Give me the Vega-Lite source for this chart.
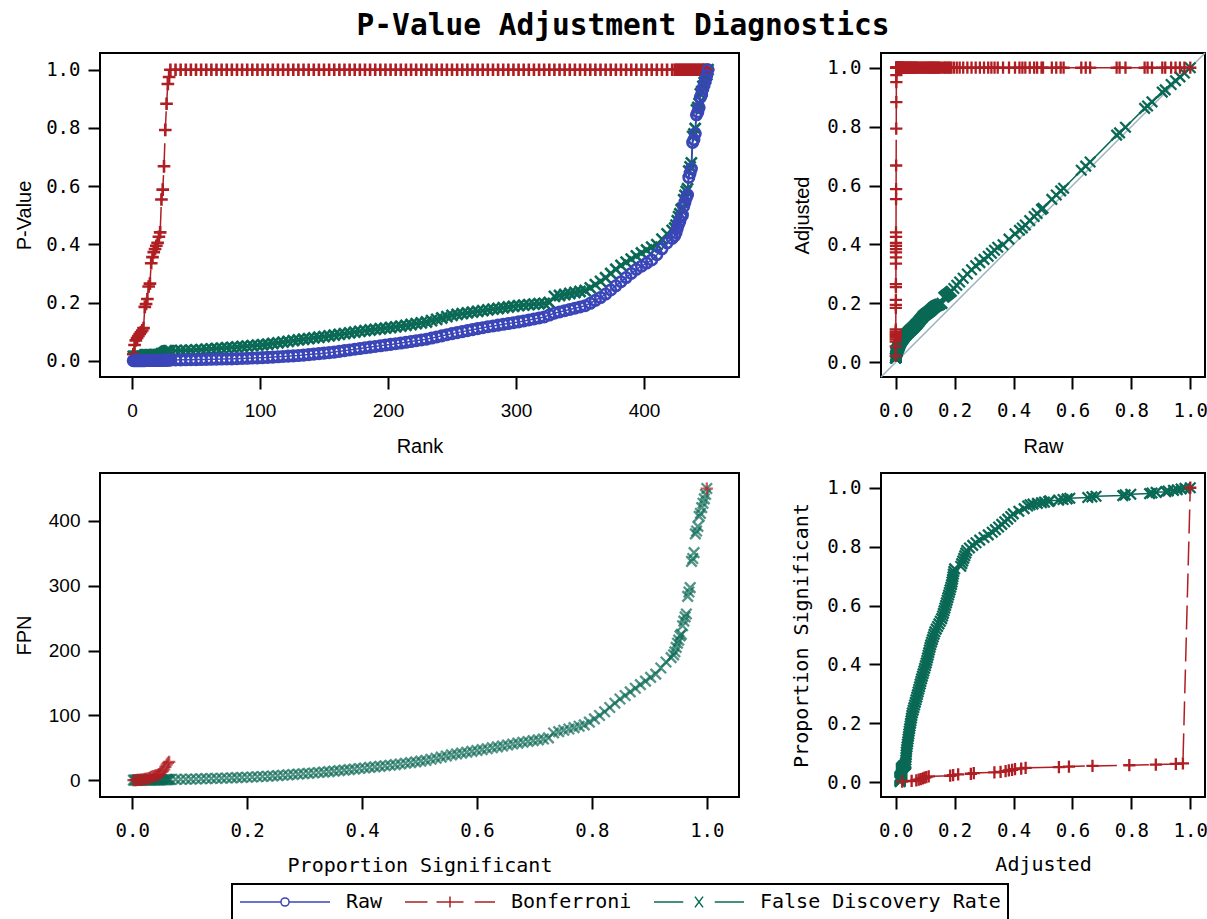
{
"$schema": "https://vega.github.io/schema/vega-lite/v6.json",
"background": "white",
"padding": {"left": 13, "top": 10, "right": 0, "bottom": 0},
"title": {"text": "P-Value Adjustment Diagnostics", "font": "DejaVu Sans Mono", "fontSize": 29.5, "fontWeight": "bold", "color": "black", "offset": 8, "dx": 12, "anchor": "middle"},
"config": {
 "view": {"stroke": "black", "strokeWidth": 2},
 "axis": {"domain": false, "grid": false, "ticks": true, "tickSize": 12, "tickWidth": 2, "tickColor": "black", "labelColor": "black", "titleColor": "black", "titleFontWeight": "normal", "labelFontSize": 19, "titleFontSize": 20, "labelFont": "DejaVu Sans Mono", "titleFont": "Liberation Sans", "titleBaseline": "alphabetic", "labelFlush": false, "labelOverlap": false},
 "axisX": {"labelPadding": 12},
 "axisY": {"labelPadding": 8},
 "legend": {"orient": "none", "legendX": 132, "legendY": 831, "direction": "horizontal", "symbolSize": 8100, "clipHeight": 22, "labelFont": "DejaVu Sans Mono", "labelFontSize": 20, "labelColor": "black", "labelOffset": 15, "columnPadding": 21, "padding": 7, "strokeColor": "black", "labelLimit": 400, "symbolStrokeWidth": 1.5}
},
"datasets": {
 "diag": [{"v": -0.05}, {"v": 1.05}],
 "d": [
{"k":1,"p":0.000049,"b":0.022,"f":0.015,"s":0.0022,"nf":0.015,"sb":0.0022,"nb":0.022},
{"k":2,"p":0.00012,"b":0.054,"f":0.015,"s":0.0044,"nf":0.03,"sb":0.0044,"nb":0.108},
{"k":3,"p":0.000156,"b":0.07,"f":0.015,"s":0.0067,"nf":0.045,"sb":0.0067,"nb":0.21},
{"k":4,"p":0.000173,"b":0.078,"f":0.015,"s":0.0089,"nf":0.06,"sb":0.0089,"nb":0.312},
{"k":5,"p":0.000189,"b":0.085,"f":0.015,"s":0.0111,"nf":0.075,"sb":0.0111,"nb":0.425},
{"k":6,"p":0.000204,"b":0.092,"f":0.015,"s":0.0133,"nf":0.09,"sb":0.0133,"nb":0.552},
{"k":7,"p":0.000218,"b":0.098,"f":0.015,"s":0.0156,"nf":0.105,"sb":0.0156,"nb":0.686},
{"k":8,"p":0.000231,"b":0.104,"f":0.015,"s":0.0178,"nf":0.12,"sb":0.0178,"nb":0.832},
{"k":9,"p":0.000249,"b":0.112,"f":0.015,"s":0.02,"nf":0.135,"sb":0.02,"nb":1.008},
{"k":10,"p":0.000411,"b":0.185,"f":0.02,"s":0.0222,"nf":0.2,"sb":0.0222,"nb":1.85},
{"k":11,"p":0.000433,"b":0.195,"f":0.02,"s":0.0244,"nf":0.22,"sb":0.0244,"nb":2.145},
{"k":12,"p":0.000471,"b":0.212,"f":0.02,"s":0.0267,"nf":0.24,"sb":0.0267,"nb":2.544},
{"k":13,"p":0.000567,"b":0.255,"f":0.02,"s":0.0289,"nf":0.26,"sb":0.0289,"nb":3.315},
{"k":14,"p":0.000589,"b":0.265,"f":0.02,"s":0.0311,"nf":0.28,"sb":0.0311,"nb":3.71},
{"k":15,"p":0.000744,"b":0.335,"f":0.02,"s":0.0333,"nf":0.3,"sb":0.0333,"nb":5.025},
{"k":16,"p":0.000791,"b":0.356,"f":0.02,"s":0.0356,"nf":0.32,"sb":0.0356,"nb":5.696},
{"k":17,"p":0.000829,"b":0.373,"f":0.02,"s":0.0378,"nf":0.34,"sb":0.0378,"nb":6.341},
{"k":18,"p":0.000853,"b":0.384,"f":0.02,"s":0.04,"nf":0.36,"sb":0.04,"nb":6.912},
{"k":19,"p":0.000878,"b":0.395,"f":0.02,"s":0.0422,"nf":0.38,"sb":0.0422,"nb":7.505},
{"k":20,"p":0.0009,"b":0.405,"f":0.02,"s":0.0444,"nf":0.4,"sb":0.0444,"nb":8.1},
{"k":21,"p":0.000947,"b":0.426,"f":0.02,"s":0.0467,"nf":0.42,"sb":0.0467,"nb":8.946},
{"k":22,"p":0.00098,"b":0.441,"f":0.02,"s":0.0489,"nf":0.44,"sb":0.0489,"nb":9.702},
{"k":23,"p":0.00123,"b":0.554,"f":0.024,"s":0.0511,"nf":0.552,"sb":0.0511,"nb":12.742},
{"k":24,"p":0.00131,"b":0.588,"f":0.0245,"s":0.0533,"nf":0.588,"sb":0.0533,"nb":14.112},
{"k":25,"p":0.00148,"b":0.668,"f":0.0267,"s":0.0556,"nf":0.668,"sb":0.0556,"nb":16.7},
{"k":26,"p":0.00176,"b":0.793,"f":0.0305,"s":0.0578,"nf":0.793,"sb":0.0578,"nb":20.618},
{"k":27,"p":0.00196,"b":0.883,"f":0.0327,"s":0.06,"nf":0.883,"sb":0.06,"nb":23.841},
{"k":28,"p":0.00211,"b":0.951,"f":0.0336,"s":0.0622,"nf":0.941,"sb":0.0622,"nb":26.628},
{"k":29,"p":0.00217,"b":0.975,"f":0.0336,"s":0.0644,"nf":0.974,"sb":0.0644,"nb":28.275},
{"k":30,"p":0.0023,"b":1,"f":0.034,"s":0.0667,"nf":1.02},
{"k":34,"p":0.0026,"b":1,"f":0.0345,"s":0.0756,"nf":1.173},
{"k":38,"p":0.0029,"b":1,"f":0.035,"s":0.0844,"nf":1.33},
{"k":42,"p":0.0032,"b":1,"f":0.0355,"s":0.0933,"nf":1.491},
{"k":46,"p":0.0035,"b":1,"f":0.036,"s":0.1022,"nf":1.656},
{"k":50,"p":0.0038,"b":1,"f":0.037,"s":0.1111,"nf":1.85},
{"k":54,"p":0.0041,"b":1,"f":0.0383,"s":0.12,"nf":2.068},
{"k":58,"p":0.0045,"b":1,"f":0.0395,"s":0.1289,"nf":2.291},
{"k":62,"p":0.0049,"b":1,"f":0.0408,"s":0.1378,"nf":2.53},
{"k":66,"p":0.0053,"b":1,"f":0.042,"s":0.1467,"nf":2.772},
{"k":70,"p":0.0057,"b":1,"f":0.0432,"s":0.1556,"nf":3.024},
{"k":74,"p":0.006,"b":1,"f":0.0445,"s":0.1644,"nf":3.293},
{"k":78,"p":0.0064,"b":1,"f":0.0457,"s":0.1733,"nf":3.565},
{"k":82,"p":0.007,"b":1,"f":0.0472,"s":0.1822,"nf":3.87},
{"k":86,"p":0.0077,"b":1,"f":0.0487,"s":0.1911,"nf":4.188},
{"k":90,"p":0.0084,"b":1,"f":0.0502,"s":0.2,"nf":4.518},
{"k":94,"p":0.0091,"b":1,"f":0.0518,"s":0.2089,"nf":4.869},
{"k":98,"p":0.0098,"b":1,"f":0.0533,"s":0.2178,"nf":5.223},
{"k":102,"p":0.0105,"b":1,"f":0.0548,"s":0.2267,"nf":5.59},
{"k":106,"p":0.0113,"b":1,"f":0.0566,"s":0.2356,"nf":6},
{"k":110,"p":0.0124,"b":1,"f":0.0591,"s":0.2444,"nf":6.501},
{"k":114,"p":0.0134,"b":1,"f":0.0615,"s":0.2533,"nf":7.011},
{"k":118,"p":0.0145,"b":1,"f":0.064,"s":0.2622,"nf":7.552},
{"k":122,"p":0.0156,"b":1,"f":0.0665,"s":0.2711,"nf":8.113},
{"k":126,"p":0.0167,"b":1,"f":0.0689,"s":0.28,"nf":8.681},
{"k":130,"p":0.0177,"b":1,"f":0.0714,"s":0.2889,"nf":9.282},
{"k":134,"p":0.0193,"b":1,"f":0.0737,"s":0.2978,"nf":9.876},
{"k":138,"p":0.021,"b":1,"f":0.076,"s":0.3067,"nf":10.488},
{"k":142,"p":0.0227,"b":1,"f":0.0783,"s":0.3156,"nf":11.119},
{"k":146,"p":0.0243,"b":1,"f":0.0807,"s":0.3244,"nf":11.782},
{"k":150,"p":0.026,"b":1,"f":0.083,"s":0.3333,"nf":12.45},
{"k":154,"p":0.0277,"b":1,"f":0.0853,"s":0.3422,"nf":13.136},
{"k":158,"p":0.0296,"b":1,"f":0.0877,"s":0.3511,"nf":13.857},
{"k":162,"p":0.0321,"b":1,"f":0.0903,"s":0.36,"nf":14.629},
{"k":166,"p":0.0345,"b":1,"f":0.0929,"s":0.3689,"nf":15.421},
{"k":170,"p":0.037,"b":1,"f":0.0955,"s":0.3778,"nf":16.235},
{"k":174,"p":0.0395,"b":1,"f":0.0981,"s":0.3867,"nf":17.069},
{"k":178,"p":0.0419,"b":1,"f":0.1007,"s":0.3956,"nf":17.925},
{"k":182,"p":0.0444,"b":1,"f":0.1033,"s":0.4044,"nf":18.801},
{"k":186,"p":0.0467,"b":1,"f":0.1056,"s":0.4133,"nf":19.642},
{"k":190,"p":0.049,"b":1,"f":0.1078,"s":0.4222,"nf":20.482},
{"k":194,"p":0.0513,"b":1,"f":0.1099,"s":0.4311,"nf":21.321},
{"k":198,"p":0.0537,"b":1,"f":0.1121,"s":0.44,"nf":22.196},
{"k":202,"p":0.056,"b":1,"f":0.1142,"s":0.4489,"nf":23.068},
{"k":206,"p":0.0583,"b":1,"f":0.1164,"s":0.4578,"nf":23.978},
{"k":210,"p":0.0607,"b":1,"f":0.1187,"s":0.4667,"nf":24.927},
{"k":214,"p":0.0633,"b":1,"f":0.1216,"s":0.4756,"nf":26.022},
{"k":218,"p":0.066,"b":1,"f":0.1244,"s":0.4844,"nf":27.119},
{"k":222,"p":0.0687,"b":1,"f":0.1273,"s":0.4933,"nf":28.261},
{"k":226,"p":0.0713,"b":1,"f":0.1301,"s":0.5022,"nf":29.403},
{"k":230,"p":0.074,"b":1,"f":0.133,"s":0.5111,"nf":30.59},
{"k":234,"p":0.0778,"b":1,"f":0.1376,"s":0.52,"nf":32.198},
{"k":238,"p":0.0816,"b":1,"f":0.1421,"s":0.5289,"nf":33.82},
{"k":242,"p":0.0854,"b":1,"f":0.1467,"s":0.5378,"nf":35.501},
{"k":246,"p":0.0892,"b":1,"f":0.1513,"s":0.5467,"nf":37.22},
{"k":250,"p":0.093,"b":1,"f":0.1559,"s":0.5556,"nf":38.975},
{"k":254,"p":0.0965,"b":1,"f":0.159,"s":0.5644,"nf":40.386},
{"k":258,"p":0.0999,"b":1,"f":0.1616,"s":0.5733,"nf":41.693},
{"k":262,"p":0.1033,"b":1,"f":0.1642,"s":0.5822,"nf":43.02},
{"k":266,"p":0.1067,"b":1,"f":0.1668,"s":0.5911,"nf":44.369},
{"k":270,"p":0.1101,"b":1,"f":0.1694,"s":0.6,"nf":45.738},
{"k":274,"p":0.1135,"b":1,"f":0.172,"s":0.6089,"nf":47.128},
{"k":278,"p":0.1167,"b":1,"f":0.1746,"s":0.6178,"nf":48.539},
{"k":282,"p":0.1195,"b":1,"f":0.1771,"s":0.6267,"nf":49.942},
{"k":286,"p":0.1222,"b":1,"f":0.1795,"s":0.6356,"nf":51.337},
{"k":290,"p":0.125,"b":1,"f":0.182,"s":0.6444,"nf":52.78},
{"k":294,"p":0.1278,"b":1,"f":0.1845,"s":0.6533,"nf":54.243},
{"k":298,"p":0.1305,"b":1,"f":0.1869,"s":0.6622,"nf":55.696},
{"k":302,"p":0.1333,"b":1,"f":0.1894,"s":0.6711,"nf":57.199},
{"k":306,"p":0.1366,"b":1,"f":0.1911,"s":0.68,"nf":58.477},
{"k":310,"p":0.14,"b":1,"f":0.1927,"s":0.6889,"nf":59.737},
{"k":314,"p":0.1434,"b":1,"f":0.1942,"s":0.6978,"nf":60.979},
{"k":318,"p":0.1469,"b":1,"f":0.1957,"s":0.7067,"nf":62.233},
{"k":322,"p":0.1503,"b":1,"f":0.1972,"s":0.7156,"nf":63.498},
{"k":326,"p":0.157,"b":1,"f":0.2,"s":0.7244,"nf":65.2},
{"k":330,"p":0.1631,"b":1,"f":0.2208,"s":0.7333,"nf":72.864},
{"k":334,"p":0.1674,"b":1,"f":0.2242,"s":0.7422,"nf":74.883},
{"k":338,"p":0.1717,"b":1,"f":0.2276,"s":0.7511,"nf":76.929},
{"k":342,"p":0.176,"b":1,"f":0.231,"s":0.76,"nf":79.002},
{"k":346,"p":0.1803,"b":1,"f":0.2344,"s":0.7689,"nf":81.102},
{"k":350,"p":0.1846,"b":1,"f":0.2378,"s":0.7778,"nf":83.23},
{"k":354,"p":0.1889,"b":1,"f":0.2412,"s":0.7867,"nf":85.385},
{"k":358,"p":0.1974,"b":1,"f":0.2503,"s":0.7956,"nf":89.607},
{"k":362,"p":0.2072,"b":1,"f":0.2614,"s":0.8044,"nf":94.627},
{"k":366,"p":0.2171,"b":1,"f":0.2725,"s":0.8133,"nf":99.735},
{"k":370,"p":0.2291,"b":1,"f":0.2852,"s":0.8222,"nf":105.524},
{"k":374,"p":0.2432,"b":1,"f":0.2997,"s":0.8311,"nf":112.088},
{"k":378,"p":0.2574,"b":1,"f":0.3142,"s":0.84,"nf":118.768},
{"k":382,"p":0.2715,"b":1,"f":0.3277,"s":0.8489,"nf":125.181},
{"k":386,"p":0.2857,"b":1,"f":0.3385,"s":0.8578,"nf":130.661},
{"k":390,"p":0.2998,"b":1,"f":0.3492,"s":0.8667,"nf":136.188},
{"k":394,"p":0.314,"b":1,"f":0.36,"s":0.8756,"nf":141.84},
{"k":398,"p":0.3248,"b":1,"f":0.3702,"s":0.8844,"nf":147.34},
{"k":402,"p":0.3355,"b":1,"f":0.3803,"s":0.8933,"nf":152.881},
{"k":406,"p":0.3463,"b":1,"f":0.3905,"s":0.9022,"nf":158.543},
{"k":410,"p":0.3643,"b":1,"f":0.399,"s":0.9111,"nf":163.59},
{"k":414,"p":0.3846,"b":1,"f":0.418,"s":0.92,"nf":173.052},
{"k":418,"p":0.405,"b":1,"f":0.436,"s":0.9289,"nf":182.248},
{"k":422,"p":0.42,"b":1,"f":0.448,"s":0.9378,"nf":189.056},
{"k":424,"p":0.43,"b":1,"f":0.456,"s":0.9422,"nf":193.344},
{"k":425,"p":0.44,"b":1,"f":0.466,"s":0.9444,"nf":198.05},
{"k":426,"p":0.455,"b":1,"f":0.481,"s":0.9467,"nf":204.906},
{"k":427,"p":0.47,"b":1,"f":0.495,"s":0.9489,"nf":211.365},
{"k":428,"p":0.48,"b":1,"f":0.505,"s":0.9511,"nf":216.14},
{"k":429,"p":0.495,"b":1,"f":0.519,"s":0.9533,"nf":222.651},
{"k":430,"p":0.5,"b":1,"f":0.523,"s":0.9556,"nf":224.89},
{"k":431,"p":0.53,"b":1,"f":0.553,"s":0.9578,"nf":238.343},
{"k":432,"p":0.545,"b":1,"f":0.568,"s":0.96,"nf":245.376},
{"k":433,"p":0.56,"b":1,"f":0.582,"s":0.9622,"nf":252.006},
{"k":434,"p":0.57,"b":1,"f":0.591,"s":0.9644,"nf":256.494},
{"k":435,"p":0.63,"b":1,"f":0.652,"s":0.9667,"nf":283.62},
{"k":436,"p":0.645,"b":1,"f":0.666,"s":0.9689,"nf":290.376},
{"k":437,"p":0.66,"b":1,"f":0.68,"s":0.9711,"nf":297.16},
{"k":438,"p":0.75,"b":1,"f":0.771,"s":0.9733,"nf":337.698},
{"k":439,"p":0.76,"b":1,"f":0.779,"s":0.9756,"nf":341.981},
{"k":440,"p":0.78,"b":1,"f":0.798,"s":0.9778,"nf":351.12},
{"k":441,"p":0.845,"b":1,"f":0.862,"s":0.98,"nf":380.142},
{"k":442,"p":0.855,"b":1,"f":0.87,"s":0.9822,"nf":384.54},
{"k":443,"p":0.87,"b":1,"f":0.884,"s":0.9844,"nf":391.612},
{"k":444,"p":0.905,"b":1,"f":0.917,"s":0.9867,"nf":407.148},
{"k":445,"p":0.915,"b":1,"f":0.925,"s":0.9889,"nf":411.625},
{"k":446,"p":0.935,"b":1,"f":0.943,"s":0.9911,"nf":420.578},
{"k":447,"p":0.95,"b":1,"f":0.956,"s":0.9933,"nf":427.332},
{"k":448,"p":0.965,"b":1,"f":0.969,"s":0.9956,"nf":434.112},
{"k":449,"p":0.98,"b":1,"f":0.982,"s":0.9978,"nf":440.918},
{"k":450,"p":1,"b":1,"f":1,"s":1,"nf":450,"sb":1,"nb":450}
 ]
},
"data": {"name": "d"},
"columns": 2,
"bounds": "flush",
"spacing": {"row": 96, "column": 142},
"concat": [
 {
  "width": 639, "height": 324,
  "layer": [
   {"mark": {"type": "line", "strokeWidth": 1.5, "point": {"filled": false, "shape": "M-1,-1L1,1M-1,1L1,-1", "size": 121, "strokeWidth": 2.6}},
    "encoding": {
     "x": {"field": "k", "type": "quantitative", "title": "Rank", "scale": {"domain": [-25, 474.2], "nice": false, "zero": false}, "axis": {"values": [0, 100, 200, 300, 400], "labelFont": "Liberation Sans", "titleX": 319.5, "titleY": 75}},
     "y": {"field": "f", "type": "quantitative", "title": "P-Value", "scale": {"domain": [-0.056, 1.0574], "nice": false, "zero": false}, "axis": {"values": [0, 0.2, 0.4, 0.6, 0.8, 1], "format": ".1f", "titleX": -70, "titleY": 162}},
     "color": {"datum": "False Discovery Rate", "scale": {"domain": ["Raw", "Bonferroni", "False Discovery Rate"], "range": ["#3A45B8", "#AF1E23", "#0A6955"]},
      "legend": {"title": null, "orient": "none", "legendX": 132, "legendY": 831, "direction": "horizontal",
       "encode": {
        "symbols": {"update": {
         "shape": {"signal": "datum.value === 'Raw' ? 'M-1,0H-0.09M0.09,0H1M-0.09,0A0.09,0.09 0 1,1 0.09,0A0.09,0.09 0 1,1 -0.09,0' : datum.value === 'Bonferroni' ? 'M-1,0H-0.5M-0.3,0H0.3M0.55,0H1M0,-0.12V0.12' : 'M-1,0H-0.35M0.35,0H1M-0.09,-0.12L0.09,0.12M-0.09,0.12L0.09,-0.12'"},
         "stroke": {"scale": "color", "field": "value"},
         "fill": {"value": "transparent"},
         "strokeWidth": {"value": 1.5},
         "opacity": {"value": 1}}},
        "legend": {"update": {"stroke": {"value": "black"}, "strokeWidth": {"value": 2}}}
       }}}
    }},
   {"mark": {"type": "line", "strokeWidth": 1.5, "strokeDash": [24, 8], "point": {"filled": false, "shape": "M-1,0H1M0,-1V1", "size": 160, "strokeWidth": 2.6}},
    "encoding": {
     "x": {"field": "k", "type": "quantitative", "title": "Rank", "scale": {"domain": [-25, 474.2], "nice": false, "zero": false}, "axis": {"values": [0, 100, 200, 300, 400], "labelFont": "Liberation Sans", "titleX": 319.5, "titleY": 75}},
     "y": {"field": "b", "type": "quantitative", "title": "P-Value", "scale": {"domain": [-0.056, 1.0574], "nice": false, "zero": false}, "axis": {"values": [0, 0.2, 0.4, 0.6, 0.8, 1], "format": ".1f", "titleX": -70, "titleY": 162}},
     "color": {"datum": "Bonferroni", "scale": {"domain": ["Raw", "Bonferroni", "False Discovery Rate"], "range": ["#3A45B8", "#AF1E23", "#0A6955"]}}
    }},
   {"mark": {"type": "line", "strokeWidth": 1.5, "point": {"filled": false, "shape": "circle", "size": 110, "strokeWidth": 2.6}},
    "encoding": {
     "x": {"field": "k", "type": "quantitative", "title": "Rank", "scale": {"domain": [-25, 474.2], "nice": false, "zero": false}, "axis": {"values": [0, 100, 200, 300, 400], "labelFont": "Liberation Sans", "titleX": 319.5, "titleY": 75}},
     "y": {"field": "p", "type": "quantitative", "title": "P-Value", "scale": {"domain": [-0.056, 1.0574], "nice": false, "zero": false}, "axis": {"values": [0, 0.2, 0.4, 0.6, 0.8, 1], "format": ".1f", "titleX": -70, "titleY": 162}},
     "color": {"datum": "Raw", "scale": {"domain": ["Raw", "Bonferroni", "False Discovery Rate"], "range": ["#3A45B8", "#AF1E23", "#0A6955"]}}
    }}
  ]
 },
 {
  "width": 324, "height": 324,
  "layer": [
   {"data": {"name": "diag"},
    "mark": {"type": "line", "color": "#9DB4C0", "strokeWidth": 1.5},
    "encoding": {
     "x": {"field": "v", "type": "quantitative", "title": "Raw", "scale": {"domain": [-0.05, 1.05], "nice": false, "zero": false}, "axis": {"values": [0, 0.2, 0.4, 0.6, 0.8, 1], "format": ".1f", "titleX": 162, "titleY": 75}},
     "y": {"field": "v", "type": "quantitative", "title": "Adjusted", "scale": {"domain": [-0.05, 1.05], "nice": false, "zero": false}, "axis": {"values": [0, 0.2, 0.4, 0.6, 0.8, 1], "format": ".1f", "titleX": -73, "titleY": 162}}
    }},
   {"mark": {"type": "line", "strokeWidth": 1.5, "point": {"filled": false, "shape": "M-1,-1L1,1M-1,1L1,-1", "size": 110, "strokeWidth": 2.3}},
    "encoding": {
     "x": {"field": "p", "type": "quantitative", "title": "Raw", "scale": {"domain": [-0.05, 1.05], "nice": false, "zero": false}, "axis": {"values": [0, 0.2, 0.4, 0.6, 0.8, 1], "format": ".1f", "titleX": 162, "titleY": 75}},
     "y": {"field": "f", "type": "quantitative", "title": "Adjusted", "scale": {"domain": [-0.05, 1.05], "nice": false, "zero": false}, "axis": {"values": [0, 0.2, 0.4, 0.6, 0.8, 1], "format": ".1f", "titleX": -73, "titleY": 162}},
     "color": {"datum": "False Discovery Rate", "scale": {"domain": ["Raw", "Bonferroni", "False Discovery Rate"], "range": ["#3A45B8", "#AF1E23", "#0A6955"]}}
    }},
   {"mark": {"type": "line", "strokeWidth": 1.5, "strokeDash": [24, 8], "point": {"filled": false, "shape": "M-1,0H1M0,-1V1", "size": 150, "strokeWidth": 2.3}},
    "encoding": {
     "x": {"field": "p", "type": "quantitative", "title": "Raw", "scale": {"domain": [-0.05, 1.05], "nice": false, "zero": false}, "axis": {"values": [0, 0.2, 0.4, 0.6, 0.8, 1], "format": ".1f", "titleX": 162, "titleY": 75}},
     "y": {"field": "b", "type": "quantitative", "title": "Adjusted", "scale": {"domain": [-0.05, 1.05], "nice": false, "zero": false}, "axis": {"values": [0, 0.2, 0.4, 0.6, 0.8, 1], "format": ".1f", "titleX": -73, "titleY": 162}},
     "color": {"datum": "Bonferroni", "scale": {"domain": ["Raw", "Bonferroni", "False Discovery Rate"], "range": ["#3A45B8", "#AF1E23", "#0A6955"]}}
    }}
  ]
 },
 {
  "width": 639, "height": 324,
  "layer": [
   {"mark": {"type": "point", "filled": false, "shape": "M-1,-1L1,1M-1,1L1,-1", "size": 110, "strokeWidth": 2.3},
    "encoding": {
     "x": {"field": "s", "type": "quantitative", "title": "Proportion Significant", "scale": {"domain": [-0.056, 1.056], "nice": false, "zero": false}, "axis": {"values": [0, 0.2, 0.4, 0.6, 0.8, 1], "format": ".1f", "titleFont": "DejaVu Sans Mono", "titleX": 319.5, "titleY": 74}},
     "y": {"field": "nf", "type": "quantitative", "title": "FPN", "scale": {"domain": [-26, 474], "nice": false, "zero": false}, "axis": {"values": [0, 100, 200, 300, 400], "labelFont": "Liberation Sans", "titleX": -70, "titleY": 162}},
     "color": {"datum": "False Discovery Rate", "scale": {"domain": ["Raw", "Bonferroni", "False Discovery Rate"], "range": ["#3A45B8", "#AF1E23", "#0A6955"]}}
    }},
   {"transform": [{"filter": "isValid(datum.nb)"}],
    "mark": {"type": "point", "filled": false, "shape": "M-1,0H1M0,-1V1", "size": 150, "strokeWidth": 2.3},
    "encoding": {
     "x": {"field": "sb", "type": "quantitative", "title": "Proportion Significant", "scale": {"domain": [-0.056, 1.056], "nice": false, "zero": false}, "axis": {"values": [0, 0.2, 0.4, 0.6, 0.8, 1], "format": ".1f", "titleFont": "DejaVu Sans Mono", "titleX": 319.5, "titleY": 74}},
     "y": {"field": "nb", "type": "quantitative", "title": "FPN", "scale": {"domain": [-26, 474], "nice": false, "zero": false}, "axis": {"values": [0, 100, 200, 300, 400], "labelFont": "Liberation Sans", "titleX": -70, "titleY": 162}},
     "color": {"datum": "Bonferroni", "scale": {"domain": ["Raw", "Bonferroni", "False Discovery Rate"], "range": ["#3A45B8", "#AF1E23", "#0A6955"]}}
    }}
  ]
 },
 {
  "width": 324, "height": 324,
  "layer": [
   {"mark": {"type": "line", "strokeWidth": 1.5, "point": {"filled": false, "shape": "M-1,-1L1,1M-1,1L1,-1", "size": 110, "strokeWidth": 2.3}},
    "encoding": {
     "x": {"field": "f", "type": "quantitative", "title": "Adjusted", "scale": {"domain": [-0.05, 1.05], "nice": false, "zero": false}, "axis": {"values": [0, 0.2, 0.4, 0.6, 0.8, 1], "format": ".1f", "titleFont": "DejaVu Sans Mono", "titleX": 162, "titleY": 73}},
     "y": {"field": "s", "type": "quantitative", "title": "Proportion Significant", "scale": {"domain": [-0.05, 1.05], "nice": false, "zero": false}, "axis": {"values": [0, 0.2, 0.4, 0.6, 0.8, 1], "format": ".1f", "titleFont": "DejaVu Sans Mono", "titleX": -74, "titleY": 162}},
     "color": {"datum": "False Discovery Rate", "scale": {"domain": ["Raw", "Bonferroni", "False Discovery Rate"], "range": ["#3A45B8", "#AF1E23", "#0A6955"]}}
    }},
   {"transform": [{"filter": "isValid(datum.sb)"}],
    "mark": {"type": "line", "strokeWidth": 1.5, "strokeDash": [24, 8], "point": {"filled": false, "shape": "M-1,0H1M0,-1V1", "size": 150, "strokeWidth": 2.3}},
    "encoding": {
     "x": {"field": "b", "type": "quantitative", "title": "Adjusted", "scale": {"domain": [-0.05, 1.05], "nice": false, "zero": false}, "axis": {"values": [0, 0.2, 0.4, 0.6, 0.8, 1], "format": ".1f", "titleFont": "DejaVu Sans Mono", "titleX": 162, "titleY": 73}},
     "y": {"field": "sb", "type": "quantitative", "title": "Proportion Significant", "scale": {"domain": [-0.05, 1.05], "nice": false, "zero": false}, "axis": {"values": [0, 0.2, 0.4, 0.6, 0.8, 1], "format": ".1f", "titleFont": "DejaVu Sans Mono", "titleX": -74, "titleY": 162}},
     "color": {"datum": "Bonferroni", "scale": {"domain": ["Raw", "Bonferroni", "False Discovery Rate"], "range": ["#3A45B8", "#AF1E23", "#0A6955"]}}
    }}
  ]
 }
]
}
